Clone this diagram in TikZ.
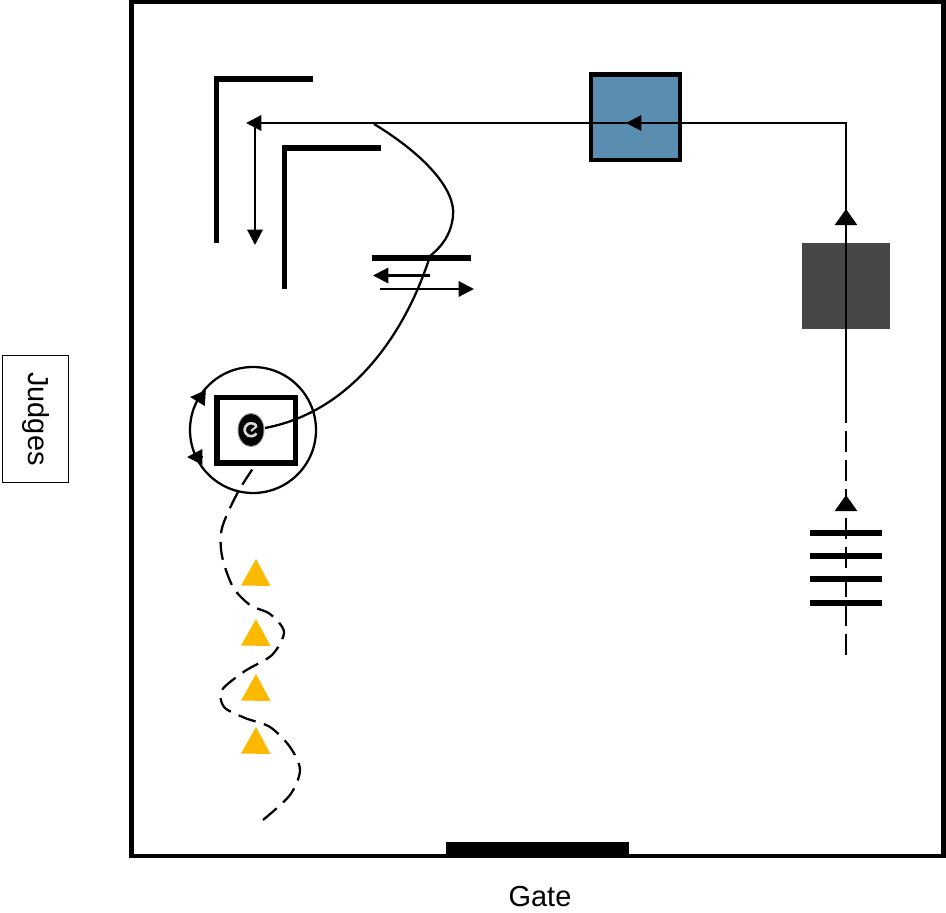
\documentclass[tikz,border=0pt]{standalone}
\usepackage{fontspec}
\usetikzlibrary{arrows.meta}
\setmainfont{Liberation Sans}
\definecolor{jumpblue}{HTML}{5A8DB0}
\definecolor{jumpgrey}{HTML}{474747}
\definecolor{coneyellow}{HTML}{FBB900}
\begin{document}
\begin{tikzpicture}[x=0.75pt,y=-0.75pt,
  wall/.style={line width=3.8pt},
  route/.style={line width=1.7pt},
  gapped/.style={route,dash pattern=on 15.75pt off 6pt},
  tip/.style={route,-{Triangle[length=12pt,width=16.5pt]}},
  smalltip/.style={route,-{Triangle[length=11.5pt,width=11.5pt]}},
  cone/.style={fill=coneyellow}]
\useasboundingbox (0,0) rectangle (946,913);
% arena
\draw[line width=3.4pt] (131.5,2) rectangle (943.5,856);
\fill (446,842) rectangle (629,858);
\node[font=\fontsize{21.7}{25}\selectfont] (gate) at (540,897) {Gate};
\node[draw,line width=1.1pt,minimum width=95.5pt,minimum height=49.5pt,inner sep=0pt,
  rotate=-90,font=\fontsize{21.7}{25}\selectfont] (judges) at (35.5,419) {Judges};
% jumps at the top and on the right
\draw[line width=3.4pt,fill=jumpblue] (591,74.5) rectangle (680,160);
\fill[jumpgrey] (802,243) rectangle (890,329);
\draw[wall] (216.5,243)--(216.5,79)--(313,79);
\draw[wall] (284.5,289)--(284.5,148)--(381,148);
\draw[wall] (372,258)--(471,258);
% poles
\draw[wall] (810,533)--(882,533);
\draw[wall] (810,556)--(882,556);
\draw[wall] (810,579)--(882,579);
\draw[wall] (810,603)--(882,603);
% straight route
\draw[gapped] (846,655)--(846,418);
\draw[route] (846,418)--(846,123)--(260,123);
\draw[tip] (846,511)--(846,495);
\draw[tip] (846,226)--(846,209);
\draw[smalltip] (642,123)--(626,123);
\draw[smalltip] (262,123)--(246,123);
\draw[smalltip] (255,123)--(255,245);
\draw[smalltip] (430,275.5)--(373,275.5);
\draw[smalltip] (380,289)--(474,289);
% turn
\draw[route] (374,124) .. controls (425,155) and (456,190) .. (453,216)
  .. controls (451,236) and (440,248) .. (430,256)
  .. controls (410,320) and (360,410) .. (265,428);
\draw[route] (253,430) circle[radius=63];
\draw[line width=3.9pt] (217,397.5) rectangle (295.5,463);
\draw[smalltip] (205,398)--(190,397);
\draw[smalltip] (202,457)--(187,457);
% rider
\fill[black!40] (251,430) ellipse[x radius=13.5,y radius=17];
\fill (251,430) ellipse[x radius=12.5,y radius=16];
\draw[white!85!black,line width=2pt] (256.5,426) arc[start angle=-35,end angle=-325,radius=6.5];
\draw[white!85!black,line width=1.5pt] (251,431)--(257,426);
% cones
\fill[cone] (256,559)--(270.5,586)--(241,585.5)--cycle;
\fill[cone] (256,619)--(270.5,646)--(241,645.5)--cycle;
\fill[cone] (256,674)--(270.5,701)--(241,700.5)--cycle;
\fill[cone] (256,727)--(270.5,754)--(241,753.5)--cycle;
% dashed way in
\draw[route,dash pattern=on 13.5pt off 6.5pt,smooth] plot coordinates {(263,820) (290,795) (300,770) (290,747) (270,727)
  (245,718) (224,707) (222,690) (245,671) (272,655) (284,632) (270,614) (250,605) (233,587) (222,556) (222,528)
  (238,492) (258,461)};
\end{tikzpicture}
\end{document}
